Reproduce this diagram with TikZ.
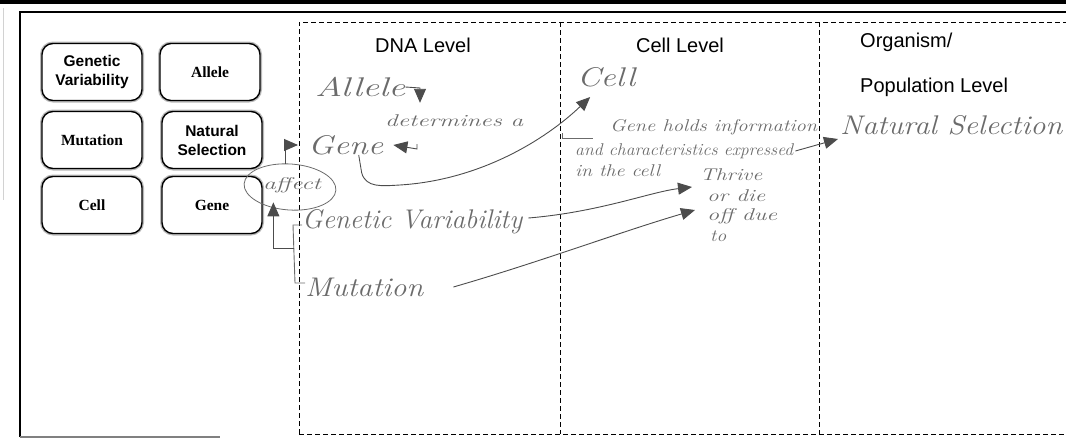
\documentclass[tikz,border=0pt]{standalone}
\usepackage{fontspec}
\newfontfamily\arialf{Liberation Sans}
\newfontfamily\timesf{Liberation Serif}
\usetikzlibrary{arrows.meta,shapes.geometric}
\definecolor{pencil}{gray}{0.42}
\definecolor{pencild}{gray}{0.30}
\newcommand\hwr[2]{\resizebox{#1pt}{\height}{#2}}
\begin{document}
\begin{tikzpicture}[x=1pt,y=-1pt,
  cbox/.style={draw, fill=white, line width=1.4pt, rounded corners=11pt,
    minimum width=100pt, minimum height=57pt, align=center, inner sep=0pt,
    preaction={draw=gray!55, line width=4pt}},
  sbold/.style={font=\arialf\bfseries\fontsize{15.5}{19}\selectfont},
  rbold/.style={font=\timesf\bfseries\fontsize{15.5}{18}\selectfont},
  head/.style={font=\arialf\fontsize{20}{24}\selectfont, inner sep=0pt},
  hand/.style={font=\itshape\fontsize{27}{29}\selectfont, text=pencil, inner sep=0pt, anchor=west},
  note/.style={font=\itshape\fontsize{17}{19}\selectfont, text=pencil, inner sep=0pt, anchor=west},
  pen/.style={draw=pencil, line width=0.9pt},
  tip/.style={-{Triangle[length=14pt,width=12pt]}, pencild},
  dsh/.style={line width=1pt, dash pattern=on 5pt off 3pt}
]
\useasboundingbox (0,0) rectangle (1066,439);
% scan artefacts and frames
\fill (0,0) rectangle (1066,3.5);
\draw[gray!35, line width=0.8pt] (3,8) -- (3,200);
\draw[line width=1.1pt] (20,437) -- (20,12) -- (1066,12);
\draw[line width=1.1pt, gray] (20,437) -- (220,437);
\draw[dsh] (299,434) -- (299,22) -- (1066,22);
\draw[dsh] (299,434) -- (1066,434);
\draw[dsh] (560,22) -- (560,434);
\draw[dsh] (819,22) -- (819,434);

% word boxes
\node[cbox, sbold] (bgv) at (92,72) {Genetic\\Variability};
\node[cbox, rbold] (bal) at (210,72) {Allele};
\node[cbox, rbold] (bmu) at (92,140) {Mutation};
\node[cbox, sbold] (bns) at (212,140) {Natural\\Selection};
\node[cbox, rbold] (bce) at (92,205) {Cell};
\node[cbox, rbold] (bge) at (212,205) {Gene};

% headings
\node[head] (hdna) at (423,45) {DNA Level};
\node[head] (hcell) at (680,45) {Cell Level};
\node[head, anchor=west] (horg) at (860,42) {Organism/};
\node[head, anchor=west] (hpop) at (860,87) {Population Level};

% handwritten words
\node[hand] (allh) at (315,87) {\hwr{90}{Allele}};
\node[note] (det) at (385,121) {\hwr{138}{determines a}};
\node[hand] (geneh) at (308,145) {\hwr{75}{Gene}};
\node[hand] (gvh) at (302,222) {\hwr{220}{Genetic Variability}};
\node[hand] (muth) at (305,287) {\hwr{118}{Mutation}};
\node[hand] (cellh) at (577,77) {\hwr{58}{Cell}};
\node[hand] (nsh) at (840,125) {\hwr{222}{Natural Selection}};
\node[note] (gh1) at (610,127) {\hwr{207}{Gene holds information}};
\node[note] (gh2) at (575,151) {\hwr{218}{and characteristics expressed}};
\node[note] (gh3) at (575,171) {\hwr{85}{in the cell}};
\node[note] (td1) at (700,175) {\hwr{62}{Thrive}};
\node[note] (td2) at (707,196) {\hwr{58}{or die}};
\node[note] (td3) at (707,216) {\hwr{70}{off due}};
\node[note] (td4) at (710,236) {\hwr{16}{to}};
\node[draw=pencil, line width=0.8pt, ellipse, minimum width=92pt, minimum height=46pt,
      inner sep=0pt, rotate=-4] (aff) at (290,187) {};
\node[note, anchor=center] (afft) at (292,185) {\hwr{58}{affect}};

% connectors
\coordinate (a1) at (420,88);
\draw[pen, tip] (allh.east) -- (a1) -- ([yshift=12pt]a1 |- det.north);
\coordinate (dg) at (417,144);
\draw[pen, tip] (dg) -- ++(0,5) -- ([xshift=10pt]geneh.east);
\draw[pen, tip] ([xshift=13pt]geneh.south) -- ++(3,18)
   .. controls (366,188) and (382,186) .. (400,185)
   .. controls (480,180) and (545,140) .. ([shift={(-16pt,-10pt)}]cellh.south);
\draw[pen, tip] ([xshift=-6pt]aff.north) |- ([xshift=-10pt]geneh.west);
\coordinate (bt) at (293,225);
\coordinate (bb) at (295,283);
\coordinate (bm) at (293.5,248);
\draw[pen] ([yshift=-3pt]gvh.west) -- (bt) -- (bb) -- ([yshift=4pt]muth.west);
\draw[pen, tip] (bm) -| ([shift={(-15pt,8pt)}]aff.south);
\draw[pen] ([shift={(-48pt,-6pt)}]gh1.west) -- ++(0,5) -- ++(31,0);
\draw[pen, tip] ([xshift=2pt]gh2.east) -- ([shift={(-2pt,-14pt)}]nsh.west);
\draw[pen, tip] ([shift={(6pt,4pt)}]gvh.east) .. controls (600,212) and (650,192) .. ([shift={(-8pt,-12pt)}]td1.west);
\draw[pen, tip] ([xshift=30pt]muth.east) .. controls (540,262) and (620,232) .. ([shift={(-12pt,-14pt)}]td2.west);
\end{tikzpicture}
\end{document}
